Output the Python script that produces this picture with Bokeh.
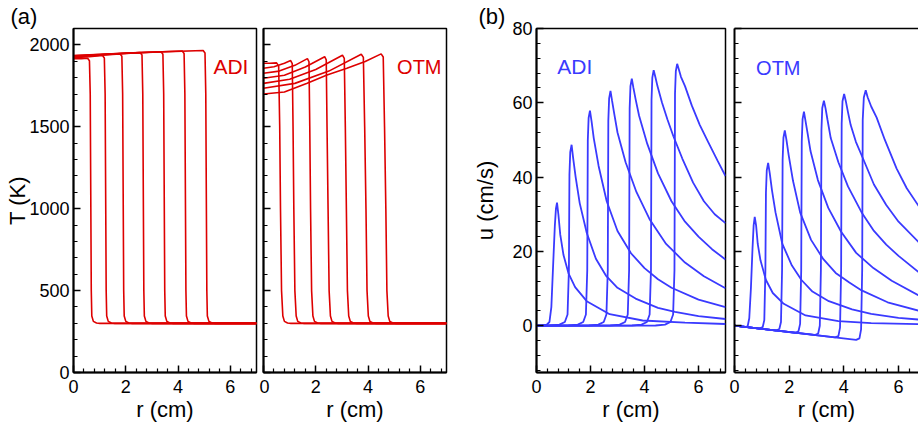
from bokeh.plotting import figure
from bokeh.layouts import row
from bokeh.models import Range1d, FixedTicker, Label, LinearAxis, CustomLabelingPolicy
from bokeh.embed import file_html
from bokeh.resources import INLINE

RED = "#dd0000"
BLUE = "#3a3aff"
FONT = "Liberation Sans"

# ---------------- data ----------------
X_TICKS = [0, 2, 4, 6]
X_MINOR = [0.4, 0.8, 1.2, 1.6, 2.4, 2.8, 3.2, 3.6, 4.4, 4.8, 5.2, 5.6, 6.4, 6.8]
T_TICKS = [0, 500, 1000, 1500, 2000]
T_MINOR = [100, 200, 300, 400, 600, 700, 800, 900, 1100, 1200, 1300, 1400,
           1600, 1700, 1800, 1900]
U_TICKS = [0, 20, 40, 60, 80]
U_MINOR = [-12, -8, -4, 4, 8, 12, 16, 24, 28, 32, 36, 44, 48, 52, 56, 64, 68, 72, 76]

# (a) ADI temperature profiles: r (cm), T (K)
T_ADI_R = [
    [0, 0.30, 0.54, 0.61, 0.64, 0.68, 0.70, 0.76, 0.88, 1.01, 7.0],
    [0, 0.60, 1.11, 1.18, 1.21, 1.25, 1.27, 1.33, 1.45, 1.58, 7.0],
    [0, 0.90, 1.78, 1.85, 1.88, 1.92, 1.94, 2.00, 2.12, 2.25, 7.0],
    [0, 1.30, 2.55, 2.62, 2.65, 2.69, 2.71, 2.77, 2.89, 3.02, 7.0],
    [0, 1.70, 3.35, 3.42, 3.45, 3.49, 3.51, 3.57, 3.69, 3.82, 7.0],
    [0, 2.10, 4.16, 4.23, 4.26, 4.30, 4.32, 4.38, 4.50, 4.63, 7.0],
    [0, 2.50, 4.96, 5.03, 5.06, 5.10, 5.12, 5.18, 5.30, 5.43, 7.0],
]
T_ADI_T = [
    [1915, 1916, 1918, 1903, 1700, 500, 345, 312, 302, 300, 300],
    [1922, 1928, 1935, 1920, 1700, 500, 345, 312, 302, 300, 300],
    [1926, 1936, 1945, 1930, 1700, 500, 345, 312, 302, 300, 300],
    [1929, 1942, 1953, 1938, 1700, 500, 345, 312, 302, 300, 300],
    [1931, 1946, 1958, 1943, 1700, 500, 345, 312, 302, 300, 300],
    [1933, 1950, 1963, 1948, 1700, 500, 345, 312, 302, 300, 300],
    [1935, 1953, 1966, 1951, 1700, 500, 345, 312, 302, 300, 300],
]

# (a) OTM temperature profiles
T_OTM_R = [
    [0, 0.25, 0.50, 0.58, 0.62, 0.65, 0.69, 0.74, 0.80, 0.92, 1.05, 7.0],
    [0, 0.40, 0.80, 1.04, 1.10, 1.13, 1.16, 1.20, 1.25, 1.31, 1.43, 1.56, 7.0],
    [0, 0.60, 1.20, 1.68, 1.74, 1.77, 1.80, 1.84, 1.89, 1.95, 2.07, 2.20, 7.0],
    [0, 0.80, 1.60, 2.34, 2.40, 2.43, 2.47, 2.51, 2.56, 2.62, 2.74, 2.87, 7.0],
    [0, 1.00, 2.00, 3.02, 3.09, 3.13, 3.17, 3.21, 3.26, 3.32, 3.44, 3.57, 7.0],
    [0, 1.20, 2.50, 3.74, 3.82, 3.87, 3.92, 3.96, 4.01, 4.07, 4.19, 4.32, 7.0],
    [0, 0.80, 1.67, 2.43, 3.19, 3.89, 4.50, 4.58, 4.63, 4.68, 4.72, 4.77, 4.83, 4.95, 5.08, 7.0],
]
T_OTM_T = [
    [1888, 1888, 1890, 1870, 1500, 1000, 500, 345, 312, 302, 300, 300],
    [1857, 1866, 1888, 1904, 1885, 1500, 1000, 500, 345, 312, 302, 300, 300],
    [1827, 1840, 1875, 1916, 1897, 1500, 1000, 500, 345, 312, 302, 300, 300],
    [1796, 1815, 1865, 1928, 1909, 1500, 1000, 500, 345, 312, 302, 300, 300],
    [1765, 1790, 1850, 1937, 1918, 1500, 1000, 500, 345, 312, 302, 300, 300],
    [1735, 1765, 1840, 1943, 1924, 1500, 1000, 500, 345, 312, 302, 300, 300],
    [1700, 1712, 1766, 1816, 1857, 1898, 1945, 1926, 1500, 1000, 500, 345, 312, 302, 300, 300],
]

# (b) ADI velocity profiles: r (cm), u (cm/s)
U_ADI_R = [
    [0, 0.20, 0.38, 0.48, 0.55, 0.62, 0.68, 0.72, 0.76, 0.81, 0.88, 1.00, 1.19, 1.43, 1.86, 2.71, 3.93, 5.50, 7.0],
    [0, 0.50, 0.85, 1.05, 1.15, 1.20, 1.22, 1.25, 1.30, 1.36, 1.45, 1.60, 1.86, 2.20, 2.57, 3.00, 3.67, 4.50, 5.13, 6.00, 7.0],
    [0, 1.18, 1.53, 1.73, 1.83, 1.88, 1.90, 1.93, 1.98, 2.04, 2.12, 2.30, 2.60, 3.00, 3.50, 4.00, 4.50, 5.00, 6.00, 7.0],
    [0, 1.94, 2.29, 2.49, 2.59, 2.64, 2.66, 2.69, 2.74, 2.80, 2.88, 3.00, 3.30, 3.70, 4.20, 4.80, 5.50, 6.20, 7.0],
    [0, 2.73, 3.08, 3.28, 3.38, 3.43, 3.45, 3.48, 3.53, 3.59, 3.67, 3.80, 4.10, 4.50, 5.00, 5.50, 6.00, 6.50, 7.0],
    [0, 3.54, 3.89, 4.09, 4.19, 4.24, 4.26, 4.29, 4.34, 4.40, 4.48, 4.65, 4.85, 5.07, 5.40, 5.80, 6.20, 6.60, 7.0],
    [0, 4.41, 4.76, 4.96, 5.06, 5.11, 5.13, 5.16, 5.21, 5.27, 5.35, 5.50, 5.75, 6.05, 6.36, 6.70, 7.0],
]
U_ADI_U = [
    [0, 0.05, 0.3, 1.0, 5.0, 17, 27, 31.5, 33.1, 30, 24.5, 19, 14, 10.4, 6.6, 3.1, 1.4, 0.8, 0.45],
    [0, 0.05, 0.3, 1.0, 3.0, 15, 40.7, 46.7, 48.7, 45, 40, 33, 25, 18, 13.5, 10.2, 7.3, 4.8, 3.7, 2.6, 1.8],
    [0, 0.05, 0.3, 1.0, 3.0, 15, 49.9, 55.9, 57.9, 55, 50.5, 43, 33.5, 25.5, 19.5, 15.5, 12.5, 10.2, 7.0, 5.0],
    [0, 0.05, 0.3, 1.0, 3.0, 15, 55.2, 61.2, 63.2, 60.5, 57, 52, 44, 36, 28.5, 22, 17, 13.3, 10.1],
    [0, 0.05, 0.3, 1.0, 3.0, 15, 58.5, 64.5, 66.5, 64, 61, 56.5, 49, 41, 33.5, 28, 24, 20.6, 17.8],
    [0, 0.05, 0.3, 1.0, 3.0, 15, 60.8, 66.8, 68.8, 67, 64.5, 60, 55.5, 51, 45, 38.5, 33.5, 30, 27.6],
    [0, 0.05, 0.3, 1.0, 3.0, 15, 62.5, 68.5, 70.5, 69, 67, 64.5, 59.3, 54, 49.4, 44.5, 40.3],
]

# (b) OTM velocity profiles
U_OTM_R = [
    [0, 0.40, 0.48, 0.54, 0.60, 0.66, 0.70, 0.74, 0.79, 0.85, 0.95, 1.15, 1.40, 1.80, 2.60, 3.80, 5.00, 7.0],
    [0, 0.90, 1.03, 1.09, 1.13, 1.15, 1.18, 1.23, 1.29, 1.37, 1.50, 1.75, 2.10, 2.45, 2.85, 3.45, 4.30, 5.00, 6.00, 7.0],
    [0, 1.52, 1.64, 1.70, 1.74, 1.76, 1.79, 1.84, 1.90, 1.98, 2.14, 2.40, 2.80, 3.25, 3.70, 4.20, 4.65, 5.60, 7.0],
    [0, 2.22, 2.34, 2.40, 2.44, 2.46, 2.49, 2.54, 2.60, 2.68, 2.78, 3.05, 3.43, 3.90, 4.45, 5.08, 5.75, 6.72, 7.0],
    [0, 2.94, 3.06, 3.12, 3.16, 3.18, 3.21, 3.27, 3.33, 3.40, 3.52, 3.80, 4.15, 4.65, 5.10, 5.55, 6.00, 6.72, 7.0],
    [0, 3.68, 3.80, 3.86, 3.90, 3.92, 3.95, 4.01, 4.07, 4.15, 4.25, 4.44, 4.70, 5.10, 5.55, 6.00, 6.72, 7.0],
    [0, 4.45, 4.57, 4.63, 4.67, 4.69, 4.73, 4.80, 4.87, 5.00, 5.20, 5.50, 5.93, 6.30, 6.72, 7.0],
]
U_OTM_U = [
    [0, -0.34, -0.2, 2.0, 10, 21, 27, 29.3, 27, 22, 17.6, 12.3, 8.8, 5.9, 2.75, 1.23, 0.7, 0.4],
    [0, -0.77, -0.4, 1.5, 15, 35.8, 41.8, 43.8, 41, 36.5, 30.5, 22, 16.2, 12.3, 9.2, 6.6, 4.4, 3.2, 2.1, 1.5],
    [0, -1.3, -0.9, 1.0, 15, 44.6, 50.6, 52.6, 50, 46, 39, 30.5, 23.1, 17.9, 14.2, 11.6, 9.5, 6.3, 3.5],
    [0, -1.9, -1.5, 0.5, 15, 49.6, 55.6, 57.6, 55, 51.5, 47, 39.2, 31.7, 25.3, 19.6, 15.5, 12.1, 8.2, 7.4],
    [0, -2.5, -2.1, 0.0, 15, 52.6, 58.6, 60.6, 58.5, 55.5, 50.5, 44, 37.5, 30.5, 25.5, 21.8, 18.8, 14.5, 13.3],
    [0, -3.15, -2.8, -0.5, 15, 54.4, 60.4, 62.4, 60.5, 57.5, 54, 49.5, 45, 38, 32.5, 28, 22.6, 21],
    [0, -3.8, -3.4, -1.0, 15, 55.4, 61.4, 63.4, 61.5, 59, 56, 50, 42.3, 37, 32.4, 30],
]

H = 428
NO_LABELS = "return new Set()"


def style_axis(ax, ticks, minor, labels=True):
    ax.ticker = FixedTicker(ticks=ticks, minor_ticks=minor)
    ax.axis_line_width = 2
    ax.axis_line_color = "black"
    ax.major_tick_in = 7
    ax.major_tick_out = 0
    ax.minor_tick_in = 4
    ax.minor_tick_out = 0
    ax.major_tick_line_width = 1.5
    ax.minor_tick_line_width = 1.2
    ax.major_tick_line_color = "black"
    ax.minor_tick_line_color = "black"
    ax.major_label_text_font = FONT
    ax.major_label_text_color = "black"
    ax.axis_label_text_font = FONT
    ax.axis_label_text_font_style = "normal"
    ax.axis_label_text_color = "black"
    ax.axis_label_text_font_size = "22px"
    if labels:
        ax.major_label_text_font_size = "18px"
        ax.major_label_standoff = 4
    else:
        ax.major_label_text_font_size = "0px"
        ax.major_label_standoff = 0
        ax.major_label_policy = CustomLabelingPolicy(code=NO_LABELS)


def make_fig(width, mbl, mbr, xend, yr, yticks, yminor, ylabels, ylabel, ylab_standoff=-4,
             outline=True, title=None, title_offset=0):
    p = figure(width=width, height=H, output_backend="svg", toolbar_location=None,
               x_range=Range1d(0, xend), y_range=Range1d(*yr),
               min_border_left=mbl, min_border_right=mbr,
               min_border_top=28, min_border_bottom=56,
               x_axis_label="r (cm)", y_axis_label=ylabel)
    p.grid.visible = False
    p.background_fill_color = "white"
    p.border_fill_color = "white"
    if outline:
        p.outline_line_color = "black"
        p.outline_line_width = 1.5
        p.outline_line_alpha = 1.0
    else:
        p.outline_line_color = None
        top = LinearAxis(ticker=FixedTicker(ticks=[], minor_ticks=[]),
                         major_label_text_font_size="0px",
                         major_label_policy=CustomLabelingPolicy(code=NO_LABELS),
                         major_tick_out=0, major_tick_in=0, minor_tick_in=0, minor_tick_out=0,
                         major_label_standoff=0, axis_line_width=1.5, axis_line_color="black")
        p.add_layout(top, "above")
    if title:
        p.title.text = title
        p.title.align = "left"
        p.title.offset = title_offset
        p.title.standoff = 0
        p.title.text_font = FONT
        p.title.text_font_size = "22px"
        p.title.text_font_style = "normal"
        p.title.text_color = "black"
    xa = p.below[0]
    ya = p.left[0]
    style_axis(xa, X_TICKS, X_MINOR, True)
    xa.major_label_standoff = 7
    xa.axis_label_standoff = 1
    style_axis(ya, yticks, yminor, ylabels)
    ya.axis_label_standoff = ylab_standoff
    return p


pa1 = make_fig(259, 73, 3, 7, (0, 2100), T_TICKS, T_MINOR, True, "T (K)", -4,
               title="(a)", title_offset=-63)
pa2 = make_fig(211, 4, 24, 7, (0, 2100), T_TICKS, T_MINOR, False, None)
pb1 = make_fig(259, 65, 4, 7, (-12.6, 80), U_TICKS, U_MINOR, True, "u (cm/s)", 11,
               title="(b)", title_offset=-58)
pb2 = make_fig(189, 5, 0, 6.73, (-12.6, 80), U_TICKS, U_MINOR, False, None, outline=False)

for r, t in zip(T_ADI_R, T_ADI_T):
    pa1.line(r, t, line_color=RED, line_width=1.6)
for r, t in zip(T_OTM_R, T_OTM_T):
    pa2.line(r, t, line_color=RED, line_width=1.6)
for r, u in zip(U_ADI_R, U_ADI_U):
    pb1.line(r, u, line_color=BLUE, line_width=1.8)
for r, u in zip(U_OTM_R, U_OTM_U):
    pb2.line(r, u, line_color=BLUE, line_width=1.8)


def lab(p, x, y, text, color, size, align):
    p.add_layout(Label(x=x, y=y, text=text, text_font=FONT, text_font_size=size,
                       text_color=color, text_align=align, text_baseline="alphabetic"))


lab(pa1, 6.69, 1865, "ADI", RED, "21px", "right")
lab(pa2, 6.81, 1865, "OTM", RED, "20px", "right")
lab(pb1, 0.77, 69.7, "ADI", BLUE, "21px", "left")
lab(pb2, 0.79, 69.4, "OTM", BLUE, "20px", "left")

layout = row(pa1, pa2, pb1, pb2)
open("out.html", "w").write(file_html(layout, INLINE))
